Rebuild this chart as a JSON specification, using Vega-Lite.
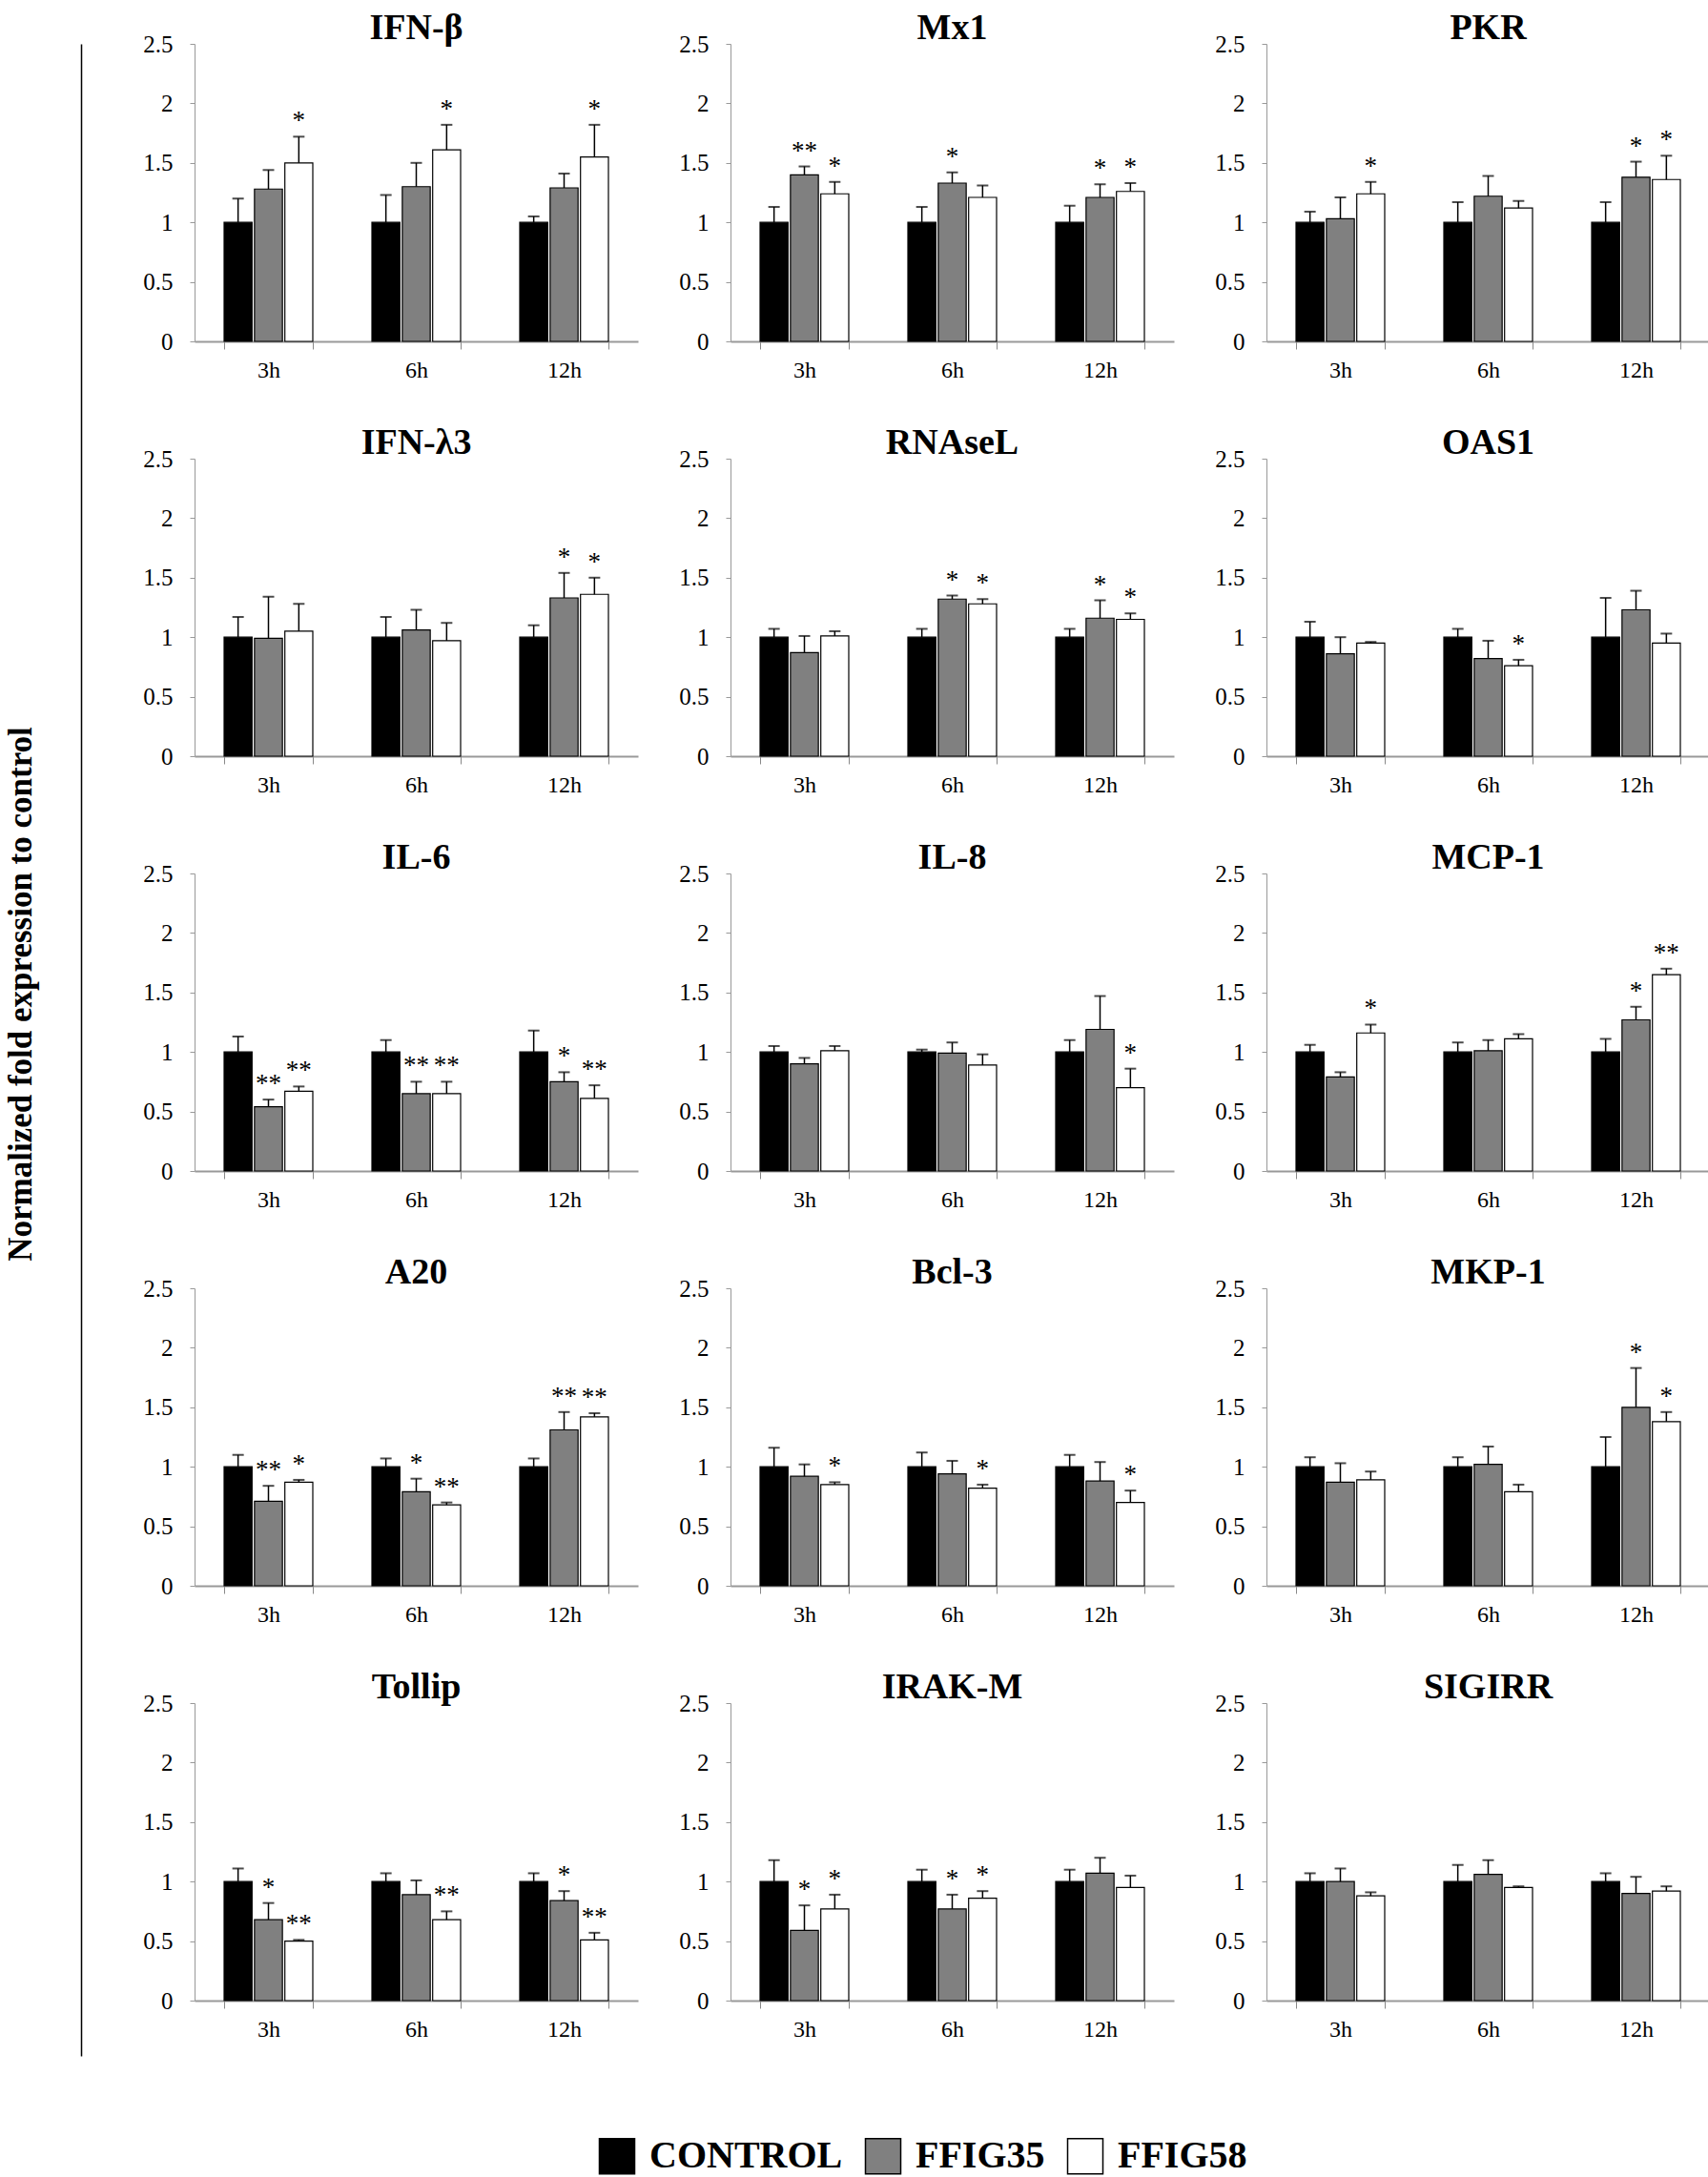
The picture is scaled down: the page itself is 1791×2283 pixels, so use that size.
{
  "$schema": "https://vega.github.io/schema/vega-lite/v6.json",
  "padding": {"left": 4, "top": 10, "right": 0, "bottom": 0},
  "data": {"values": [
    {"gene": "IFN-β", "time": "3h", "group": "CONTROL", "mean": 1.0, "hi": 1.20, "sig": ""},
    {"gene": "IFN-β", "time": "3h", "group": "FFIG35", "mean": 1.28, "hi": 1.44, "sig": ""},
    {"gene": "IFN-β", "time": "3h", "group": "FFIG58", "mean": 1.50, "hi": 1.72, "sig": "*"},
    {"gene": "IFN-β", "time": "6h", "group": "CONTROL", "mean": 1.0, "hi": 1.23, "sig": ""},
    {"gene": "IFN-β", "time": "6h", "group": "FFIG35", "mean": 1.30, "hi": 1.50, "sig": ""},
    {"gene": "IFN-β", "time": "6h", "group": "FFIG58", "mean": 1.61, "hi": 1.82, "sig": "*"},
    {"gene": "IFN-β", "time": "12h", "group": "CONTROL", "mean": 1.0, "hi": 1.05, "sig": ""},
    {"gene": "IFN-β", "time": "12h", "group": "FFIG35", "mean": 1.29, "hi": 1.41, "sig": ""},
    {"gene": "IFN-β", "time": "12h", "group": "FFIG58", "mean": 1.55, "hi": 1.82, "sig": "*"},

    {"gene": "Mx1", "time": "3h", "group": "CONTROL", "mean": 1.0, "hi": 1.13, "sig": ""},
    {"gene": "Mx1", "time": "3h", "group": "FFIG35", "mean": 1.40, "hi": 1.47, "sig": "**"},
    {"gene": "Mx1", "time": "3h", "group": "FFIG58", "mean": 1.24, "hi": 1.34, "sig": "*"},
    {"gene": "Mx1", "time": "6h", "group": "CONTROL", "mean": 1.0, "hi": 1.13, "sig": ""},
    {"gene": "Mx1", "time": "6h", "group": "FFIG35", "mean": 1.33, "hi": 1.42, "sig": "*"},
    {"gene": "Mx1", "time": "6h", "group": "FFIG58", "mean": 1.21, "hi": 1.31, "sig": ""},
    {"gene": "Mx1", "time": "12h", "group": "CONTROL", "mean": 1.0, "hi": 1.14, "sig": ""},
    {"gene": "Mx1", "time": "12h", "group": "FFIG35", "mean": 1.21, "hi": 1.32, "sig": "*"},
    {"gene": "Mx1", "time": "12h", "group": "FFIG58", "mean": 1.26, "hi": 1.33, "sig": "*"},

    {"gene": "PKR", "time": "3h", "group": "CONTROL", "mean": 1.0, "hi": 1.09, "sig": ""},
    {"gene": "PKR", "time": "3h", "group": "FFIG35", "mean": 1.03, "hi": 1.21, "sig": ""},
    {"gene": "PKR", "time": "3h", "group": "FFIG58", "mean": 1.24, "hi": 1.34, "sig": "*"},
    {"gene": "PKR", "time": "6h", "group": "CONTROL", "mean": 1.0, "hi": 1.17, "sig": ""},
    {"gene": "PKR", "time": "6h", "group": "FFIG35", "mean": 1.22, "hi": 1.39, "sig": ""},
    {"gene": "PKR", "time": "6h", "group": "FFIG58", "mean": 1.12, "hi": 1.18, "sig": ""},
    {"gene": "PKR", "time": "12h", "group": "CONTROL", "mean": 1.0, "hi": 1.17, "sig": ""},
    {"gene": "PKR", "time": "12h", "group": "FFIG35", "mean": 1.38, "hi": 1.51, "sig": "*"},
    {"gene": "PKR", "time": "12h", "group": "FFIG58", "mean": 1.36, "hi": 1.56, "sig": "*"},

    {"gene": "IFN-λ3", "time": "3h", "group": "CONTROL", "mean": 1.0, "hi": 1.17, "sig": ""},
    {"gene": "IFN-λ3", "time": "3h", "group": "FFIG35", "mean": 0.99, "hi": 1.34, "sig": ""},
    {"gene": "IFN-λ3", "time": "3h", "group": "FFIG58", "mean": 1.05, "hi": 1.28, "sig": ""},
    {"gene": "IFN-λ3", "time": "6h", "group": "CONTROL", "mean": 1.0, "hi": 1.17, "sig": ""},
    {"gene": "IFN-λ3", "time": "6h", "group": "FFIG35", "mean": 1.06, "hi": 1.23, "sig": ""},
    {"gene": "IFN-λ3", "time": "6h", "group": "FFIG58", "mean": 0.97, "hi": 1.12, "sig": ""},
    {"gene": "IFN-λ3", "time": "12h", "group": "CONTROL", "mean": 1.0, "hi": 1.10, "sig": ""},
    {"gene": "IFN-λ3", "time": "12h", "group": "FFIG35", "mean": 1.33, "hi": 1.54, "sig": "*"},
    {"gene": "IFN-λ3", "time": "12h", "group": "FFIG58", "mean": 1.36, "hi": 1.50, "sig": "*"},

    {"gene": "RNAseL", "time": "3h", "group": "CONTROL", "mean": 1.0, "hi": 1.07, "sig": ""},
    {"gene": "RNAseL", "time": "3h", "group": "FFIG35", "mean": 0.87, "hi": 1.01, "sig": ""},
    {"gene": "RNAseL", "time": "3h", "group": "FFIG58", "mean": 1.01, "hi": 1.05, "sig": ""},
    {"gene": "RNAseL", "time": "6h", "group": "CONTROL", "mean": 1.0, "hi": 1.07, "sig": ""},
    {"gene": "RNAseL", "time": "6h", "group": "FFIG35", "mean": 1.32, "hi": 1.35, "sig": "*"},
    {"gene": "RNAseL", "time": "6h", "group": "FFIG58", "mean": 1.28, "hi": 1.32, "sig": "*"},
    {"gene": "RNAseL", "time": "12h", "group": "CONTROL", "mean": 1.0, "hi": 1.07, "sig": ""},
    {"gene": "RNAseL", "time": "12h", "group": "FFIG35", "mean": 1.16, "hi": 1.31, "sig": "*"},
    {"gene": "RNAseL", "time": "12h", "group": "FFIG58", "mean": 1.15, "hi": 1.20, "sig": "*"},

    {"gene": "OAS1", "time": "3h", "group": "CONTROL", "mean": 1.0, "hi": 1.13, "sig": ""},
    {"gene": "OAS1", "time": "3h", "group": "FFIG35", "mean": 0.86, "hi": 1.00, "sig": ""},
    {"gene": "OAS1", "time": "3h", "group": "FFIG58", "mean": 0.95, "hi": 0.96, "sig": ""},
    {"gene": "OAS1", "time": "6h", "group": "CONTROL", "mean": 1.0, "hi": 1.07, "sig": ""},
    {"gene": "OAS1", "time": "6h", "group": "FFIG35", "mean": 0.82, "hi": 0.97, "sig": ""},
    {"gene": "OAS1", "time": "6h", "group": "FFIG58", "mean": 0.76, "hi": 0.81, "sig": "*"},
    {"gene": "OAS1", "time": "12h", "group": "CONTROL", "mean": 1.0, "hi": 1.33, "sig": ""},
    {"gene": "OAS1", "time": "12h", "group": "FFIG35", "mean": 1.23, "hi": 1.39, "sig": ""},
    {"gene": "OAS1", "time": "12h", "group": "FFIG58", "mean": 0.95, "hi": 1.03, "sig": ""},

    {"gene": "IL-6", "time": "3h", "group": "CONTROL", "mean": 1.0, "hi": 1.13, "sig": ""},
    {"gene": "IL-6", "time": "3h", "group": "FFIG35", "mean": 0.54, "hi": 0.60, "sig": "**"},
    {"gene": "IL-6", "time": "3h", "group": "FFIG58", "mean": 0.67, "hi": 0.71, "sig": "**"},
    {"gene": "IL-6", "time": "6h", "group": "CONTROL", "mean": 1.0, "hi": 1.10, "sig": ""},
    {"gene": "IL-6", "time": "6h", "group": "FFIG35", "mean": 0.65, "hi": 0.75, "sig": "**"},
    {"gene": "IL-6", "time": "6h", "group": "FFIG58", "mean": 0.65, "hi": 0.75, "sig": "**"},
    {"gene": "IL-6", "time": "12h", "group": "CONTROL", "mean": 1.0, "hi": 1.18, "sig": ""},
    {"gene": "IL-6", "time": "12h", "group": "FFIG35", "mean": 0.75, "hi": 0.83, "sig": "*"},
    {"gene": "IL-6", "time": "12h", "group": "FFIG58", "mean": 0.61, "hi": 0.72, "sig": "**"},

    {"gene": "IL-8", "time": "3h", "group": "CONTROL", "mean": 1.0, "hi": 1.05, "sig": ""},
    {"gene": "IL-8", "time": "3h", "group": "FFIG35", "mean": 0.90, "hi": 0.95, "sig": ""},
    {"gene": "IL-8", "time": "3h", "group": "FFIG58", "mean": 1.01, "hi": 1.05, "sig": ""},
    {"gene": "IL-8", "time": "6h", "group": "CONTROL", "mean": 1.0, "hi": 1.02, "sig": ""},
    {"gene": "IL-8", "time": "6h", "group": "FFIG35", "mean": 0.99, "hi": 1.08, "sig": ""},
    {"gene": "IL-8", "time": "6h", "group": "FFIG58", "mean": 0.89, "hi": 0.98, "sig": ""},
    {"gene": "IL-8", "time": "12h", "group": "CONTROL", "mean": 1.0, "hi": 1.10, "sig": ""},
    {"gene": "IL-8", "time": "12h", "group": "FFIG35", "mean": 1.19, "hi": 1.47, "sig": ""},
    {"gene": "IL-8", "time": "12h", "group": "FFIG58", "mean": 0.70, "hi": 0.86, "sig": "*"},

    {"gene": "MCP-1", "time": "3h", "group": "CONTROL", "mean": 1.0, "hi": 1.06, "sig": ""},
    {"gene": "MCP-1", "time": "3h", "group": "FFIG35", "mean": 0.79, "hi": 0.83, "sig": ""},
    {"gene": "MCP-1", "time": "3h", "group": "FFIG58", "mean": 1.16, "hi": 1.23, "sig": "*"},
    {"gene": "MCP-1", "time": "6h", "group": "CONTROL", "mean": 1.0, "hi": 1.08, "sig": ""},
    {"gene": "MCP-1", "time": "6h", "group": "FFIG35", "mean": 1.01, "hi": 1.10, "sig": ""},
    {"gene": "MCP-1", "time": "6h", "group": "FFIG58", "mean": 1.11, "hi": 1.15, "sig": ""},
    {"gene": "MCP-1", "time": "12h", "group": "CONTROL", "mean": 1.0, "hi": 1.11, "sig": ""},
    {"gene": "MCP-1", "time": "12h", "group": "FFIG35", "mean": 1.27, "hi": 1.38, "sig": "*"},
    {"gene": "MCP-1", "time": "12h", "group": "FFIG58", "mean": 1.65, "hi": 1.70, "sig": "**"},

    {"gene": "A20", "time": "3h", "group": "CONTROL", "mean": 1.0, "hi": 1.10, "sig": ""},
    {"gene": "A20", "time": "3h", "group": "FFIG35", "mean": 0.71, "hi": 0.84, "sig": "**"},
    {"gene": "A20", "time": "3h", "group": "FFIG58", "mean": 0.87, "hi": 0.89, "sig": "*"},
    {"gene": "A20", "time": "6h", "group": "CONTROL", "mean": 1.0, "hi": 1.07, "sig": ""},
    {"gene": "A20", "time": "6h", "group": "FFIG35", "mean": 0.79, "hi": 0.90, "sig": "*"},
    {"gene": "A20", "time": "6h", "group": "FFIG58", "mean": 0.68, "hi": 0.70, "sig": "**"},
    {"gene": "A20", "time": "12h", "group": "CONTROL", "mean": 1.0, "hi": 1.07, "sig": ""},
    {"gene": "A20", "time": "12h", "group": "FFIG35", "mean": 1.31, "hi": 1.46, "sig": "**"},
    {"gene": "A20", "time": "12h", "group": "FFIG58", "mean": 1.42, "hi": 1.45, "sig": "**"},

    {"gene": "Bcl-3", "time": "3h", "group": "CONTROL", "mean": 1.0, "hi": 1.16, "sig": ""},
    {"gene": "Bcl-3", "time": "3h", "group": "FFIG35", "mean": 0.92, "hi": 1.02, "sig": ""},
    {"gene": "Bcl-3", "time": "3h", "group": "FFIG58", "mean": 0.85, "hi": 0.87, "sig": "*"},
    {"gene": "Bcl-3", "time": "6h", "group": "CONTROL", "mean": 1.0, "hi": 1.12, "sig": ""},
    {"gene": "Bcl-3", "time": "6h", "group": "FFIG35", "mean": 0.94, "hi": 1.05, "sig": ""},
    {"gene": "Bcl-3", "time": "6h", "group": "FFIG58", "mean": 0.82, "hi": 0.85, "sig": "*"},
    {"gene": "Bcl-3", "time": "12h", "group": "CONTROL", "mean": 1.0, "hi": 1.10, "sig": ""},
    {"gene": "Bcl-3", "time": "12h", "group": "FFIG35", "mean": 0.88, "hi": 1.04, "sig": ""},
    {"gene": "Bcl-3", "time": "12h", "group": "FFIG58", "mean": 0.70, "hi": 0.80, "sig": "*"},

    {"gene": "MKP-1", "time": "3h", "group": "CONTROL", "mean": 1.0, "hi": 1.08, "sig": ""},
    {"gene": "MKP-1", "time": "3h", "group": "FFIG35", "mean": 0.87, "hi": 1.03, "sig": ""},
    {"gene": "MKP-1", "time": "3h", "group": "FFIG58", "mean": 0.89, "hi": 0.96, "sig": ""},
    {"gene": "MKP-1", "time": "6h", "group": "CONTROL", "mean": 1.0, "hi": 1.08, "sig": ""},
    {"gene": "MKP-1", "time": "6h", "group": "FFIG35", "mean": 1.02, "hi": 1.17, "sig": ""},
    {"gene": "MKP-1", "time": "6h", "group": "FFIG58", "mean": 0.79, "hi": 0.85, "sig": ""},
    {"gene": "MKP-1", "time": "12h", "group": "CONTROL", "mean": 1.0, "hi": 1.25, "sig": ""},
    {"gene": "MKP-1", "time": "12h", "group": "FFIG35", "mean": 1.50, "hi": 1.83, "sig": "*"},
    {"gene": "MKP-1", "time": "12h", "group": "FFIG58", "mean": 1.38, "hi": 1.46, "sig": "*"},

    {"gene": "Tollip", "time": "3h", "group": "CONTROL", "mean": 1.0, "hi": 1.11, "sig": ""},
    {"gene": "Tollip", "time": "3h", "group": "FFIG35", "mean": 0.68, "hi": 0.82, "sig": "*"},
    {"gene": "Tollip", "time": "3h", "group": "FFIG58", "mean": 0.50, "hi": 0.51, "sig": "**"},
    {"gene": "Tollip", "time": "6h", "group": "CONTROL", "mean": 1.0, "hi": 1.07, "sig": ""},
    {"gene": "Tollip", "time": "6h", "group": "FFIG35", "mean": 0.89, "hi": 1.01, "sig": ""},
    {"gene": "Tollip", "time": "6h", "group": "FFIG58", "mean": 0.68, "hi": 0.75, "sig": "**"},
    {"gene": "Tollip", "time": "12h", "group": "CONTROL", "mean": 1.0, "hi": 1.07, "sig": ""},
    {"gene": "Tollip", "time": "12h", "group": "FFIG35", "mean": 0.84, "hi": 0.92, "sig": "*"},
    {"gene": "Tollip", "time": "12h", "group": "FFIG58", "mean": 0.51, "hi": 0.57, "sig": "**"},

    {"gene": "IRAK-M", "time": "3h", "group": "CONTROL", "mean": 1.0, "hi": 1.18, "sig": ""},
    {"gene": "IRAK-M", "time": "3h", "group": "FFIG35", "mean": 0.59, "hi": 0.80, "sig": "*"},
    {"gene": "IRAK-M", "time": "3h", "group": "FFIG58", "mean": 0.77, "hi": 0.89, "sig": "*"},
    {"gene": "IRAK-M", "time": "6h", "group": "CONTROL", "mean": 1.0, "hi": 1.10, "sig": ""},
    {"gene": "IRAK-M", "time": "6h", "group": "FFIG35", "mean": 0.77, "hi": 0.89, "sig": "*"},
    {"gene": "IRAK-M", "time": "6h", "group": "FFIG58", "mean": 0.86, "hi": 0.92, "sig": "*"},
    {"gene": "IRAK-M", "time": "12h", "group": "CONTROL", "mean": 1.0, "hi": 1.10, "sig": ""},
    {"gene": "IRAK-M", "time": "12h", "group": "FFIG35", "mean": 1.07, "hi": 1.20, "sig": ""},
    {"gene": "IRAK-M", "time": "12h", "group": "FFIG58", "mean": 0.95, "hi": 1.05, "sig": ""},

    {"gene": "SIGIRR", "time": "3h", "group": "CONTROL", "mean": 1.0, "hi": 1.07, "sig": ""},
    {"gene": "SIGIRR", "time": "3h", "group": "FFIG35", "mean": 1.0, "hi": 1.11, "sig": ""},
    {"gene": "SIGIRR", "time": "3h", "group": "FFIG58", "mean": 0.88, "hi": 0.91, "sig": ""},
    {"gene": "SIGIRR", "time": "6h", "group": "CONTROL", "mean": 1.0, "hi": 1.14, "sig": ""},
    {"gene": "SIGIRR", "time": "6h", "group": "FFIG35", "mean": 1.06, "hi": 1.18, "sig": ""},
    {"gene": "SIGIRR", "time": "6h", "group": "FFIG58", "mean": 0.95, "hi": 0.96, "sig": ""},
    {"gene": "SIGIRR", "time": "12h", "group": "CONTROL", "mean": 1.0, "hi": 1.07, "sig": ""},
    {"gene": "SIGIRR", "time": "12h", "group": "FFIG35", "mean": 0.90, "hi": 1.04, "sig": ""},
    {"gene": "SIGIRR", "time": "12h", "group": "FFIG58", "mean": 0.92, "hi": 0.96, "sig": ""}
  ]},
  "spacing": 60,
  "hconcat": [
    {
      "width": 1,
      "height": 2110,
      "data": {"values": [{"v": 0}, {"v": 1}]},
      "mark": {"type": "point", "opacity": 0},
      "encoding": {
        "y": {
          "field": "v",
          "type": "quantitative",
          "scale": {"domain": [0, 1]},
          "axis": {
            "title": "Normalized fold expression to control",
            "labels": false,
            "ticks": false,
            "grid": false,
            "domainColor": "#000",
            "domainWidth": 1.5,
            "titleFont": "Liberation Serif",
            "titleFontSize": 35,
            "titleFontWeight": "bold",
            "titleColor": "#000",
            "titlePadding": 46,
            "titleY": 996
          }
        }
      }
    },
    {
      "facet": {
        "field": "gene",
        "type": "nominal",
        "title": null,
        "sort": ["IFN-β", "Mx1", "PKR", "IFN-λ3", "RNAseL", "OAS1", "IL-6", "IL-8", "MCP-1", "A20", "Bcl-3", "MKP-1", "Tollip", "IRAK-M", "SIGIRR"],
        "header": {"labelExpr": "''", "labelFontSize": 1, "labelPadding": 0, "labelColor": "#ffffff", "title": null}
      },
      "columns": 3,
      "spacing": {"column": 42, "row": 45},
      "resolve": {"axis": {"x": "independent", "y": "independent"}},
      "spec": {
        "width": 465,
        "height": 312,
        "encoding": {
          "x": {
            "field": "time",
            "type": "nominal",
            "sort": ["3h", "6h", "12h"],
            "scale": {"paddingInner": 0.4, "paddingOuter": 0.2},
            "axis": {
              "title": null,
              "labelAngle": 0,
              "tickBand": "extent",
              "domainColor": "#999",
              "domainWidth": 2,
              "tickColor": "#888",
              "tickSize": 8,
              "labelFont": "Liberation Serif",
              "labelFontSize": 24,
              "labelColor": "#000",
              "labelPadding": 10
            }
          },
          "y": {
            "field": "mean",
            "type": "quantitative",
            "title": null,
            "stack": null,
            "scale": {"domain": [0, 2.5], "nice": false},
            "axis": {
              "values": [0, 0.5, 1, 1.5, 2, 2.5],
              "format": "~g",
              "grid": false,
              "domainColor": "#999",
              "tickColor": "#999",
              "tickSize": 5,
              "labelFont": "Liberation Serif",
              "labelFontSize": 25,
              "labelColor": "#000",
              "labelPadding": 18
            }
          }
        },
        "layer": [
          {
            "mark": {"type": "bar", "stroke": "#000", "strokeWidth": 1.2},
            "encoding": {
              "xOffset": {"field": "group", "sort": ["CONTROL", "FFIG35", "FFIG58"], "scale": {"paddingInner": 0.08}},
              "color": {
                "field": "group",
                "type": "nominal",
                "scale": {"domain": ["CONTROL", "FFIG35", "FFIG58"], "range": ["#000000", "#808080", "#ffffff"]},
                "legend": {
                  "title": null,
                  "orient": "none",
                  "legendX": 542,
                  "legendY": 2195,
                  "direction": "horizontal",
                  "symbolType": "square",
                  "symbolSize": 1369,
                  "symbolStrokeColor": "#000",
                  "symbolStrokeWidth": 1.5,
                  "symbolOpacity": 1,
                  "labelFont": "Liberation Serif",
                  "labelFontSize": 40,
                  "labelFontWeight": "bold",
                  "labelColor": "#000",
                  "labelOffset": 14,
                  "labelLimit": 400,
                  "columnPadding": 20
                }
              }
            }
          },
          {
            "mark": {"type": "rule", "color": "#000", "strokeWidth": 1.5},
            "encoding": {
              "xOffset": {"field": "group", "sort": ["CONTROL", "FFIG35", "FFIG58"]},
              "y2": {"field": "hi"}
            }
          },
          {
            "mark": {"type": "tick", "color": "#000", "thickness": 2, "size": 12},
            "encoding": {
              "xOffset": {"field": "group", "sort": ["CONTROL", "FFIG35", "FFIG58"]},
              "y": {"field": "hi", "type": "quantitative", "title": null}
            }
          },
          {
            "transform": [{"filter": "datum.sig != ''"}],
            "mark": {"type": "text", "font": "Liberation Serif", "fontSize": 27, "baseline": "alphabetic", "dy": -8, "color": "#000"},
            "encoding": {
              "xOffset": {"field": "group", "sort": ["CONTROL", "FFIG35", "FFIG58"]},
              "y": {"field": "hi", "type": "quantitative", "title": null},
              "text": {"field": "sig"}
            }
          },
          {
            "transform": [{"filter": "datum.group == 'CONTROL' && datum.time == '6h'"}],
            "mark": {"type": "text", "font": "Liberation Serif", "fontSize": 38, "fontWeight": "bold", "baseline": "alphabetic", "align": "center", "dy": -5, "color": "#000"},
            "encoding": {
              "x": {"datum": "6h"},
              "y": {"datum": 2.5},
              "text": {"field": "gene"}
            }
          }
        ]
      }
    }
  ],
  "config": {
    "view": {"stroke": null},
    "font": "Liberation Serif",
    "background": "#ffffff"
  }
}
